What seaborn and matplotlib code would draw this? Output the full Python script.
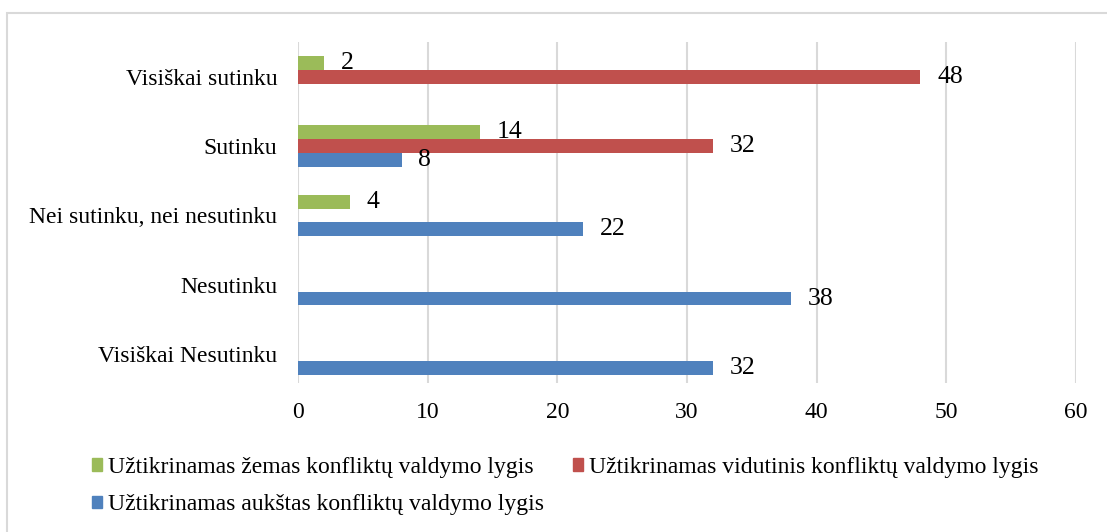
import pandas as pd
import numpy as np
import matplotlib.pyplot as plt
import seaborn as sns
from matplotlib.patches import Patch, Rectangle

categories = ['Visiškai sutinku', 'Sutinku', 'Nei sutinku, nei nesutinku',
              'Nesutinku', 'Visiškai Nesutinku']
series = ['Užtikrinamas žemas konfliktų valdymo lygis',
          'Užtikrinamas vidutinis konfliktų valdymo lygis',
          'Užtikrinamas aukštas konfliktų valdymo lygis']
low_vals = [2, 14, 4, 0, 0]
mid_vals = [48, 32, 0, 0, 0]
high_vals = [0, 8, 22, 38, 32]
colors = ['#9BBB59', '#C0504D', '#4F81BD']

rows = []
for name, vals in zip(series, [low_vals, mid_vals, high_vals]):
    for cat, v in zip(categories, vals):
        rows.append({'cat': cat, 'series': name, 'value': v})
df = pd.DataFrame(rows)

sns.set_style('white')
plt.rcParams['font.family'] = ['Liberation Serif', 'DejaVu Serif']
plt.rcParams['text.color'] = 'black'
plt.rcParams['xtick.labelcolor'] = 'black'
plt.rcParams['ytick.labelcolor'] = 'black'

fig = plt.figure(figsize=(11.07, 5.32), dpi=100)
ax = fig.add_axes([298 / 1107, 1 - 383 / 532, (1076 - 298) / 1107, (383 - 42) / 532])

sns.barplot(data=df, y='cat', x='value', hue='series', order=categories,
            hue_order=series, palette=colors, width=0.6, orient='h',
            saturation=1, legend=False, ax=ax, linewidth=0)

# value labels, skip the empty bars
for cont in ax.containers:
    labels = ['' if v == 0 else f'{v:g}' for v in cont.datavalues]
    ax.bar_label(cont, labels=labels, padding=12, fontsize=18.5, color='black')

ax.set_xlim(0, 60)
ax.set_xticks(np.arange(0, 61, 10))
ax.set_ylim(4.42, -0.505)
ax.grid(axis='x', color='#D9D9D9', linewidth=1.5)
ax.grid(axis='y', visible=False)
ax.set_axisbelow(True)
for s in ax.spines.values():
    s.set_visible(False)
ax.tick_params(axis='x', length=0, pad=14, labelsize=17, labelcolor='black')
ax.tick_params(axis='y', length=0, pad=15, labelsize=17, labelcolor='black')
ax.set_xlabel('')
ax.set_ylabel('')

handles = [Patch(color=colors[0]), Patch(color=colors[2]), Patch(color=colors[1])]
labels = [series[0], series[2], series[1]]
fig.legend(handles, labels, ncol=2, loc='upper left',
           bbox_to_anchor=(80 / 1107, 1 - 445 / 532), frameon=False,
           fontsize=17, handlelength=0.45, handleheight=0.45,
           handletextpad=0.25, columnspacing=1.2, labelspacing=0.7,
           borderpad=0, labelcolor='black')

fig.patches.append(Rectangle((7 / 1107, -0.1), 1.2, 1 - 13 / 532 + 0.1,
                             transform=fig.transFigure, fill=False,
                             edgecolor='#D9D9D9', linewidth=1.5))

fig.savefig('out.png', dpi=100)
